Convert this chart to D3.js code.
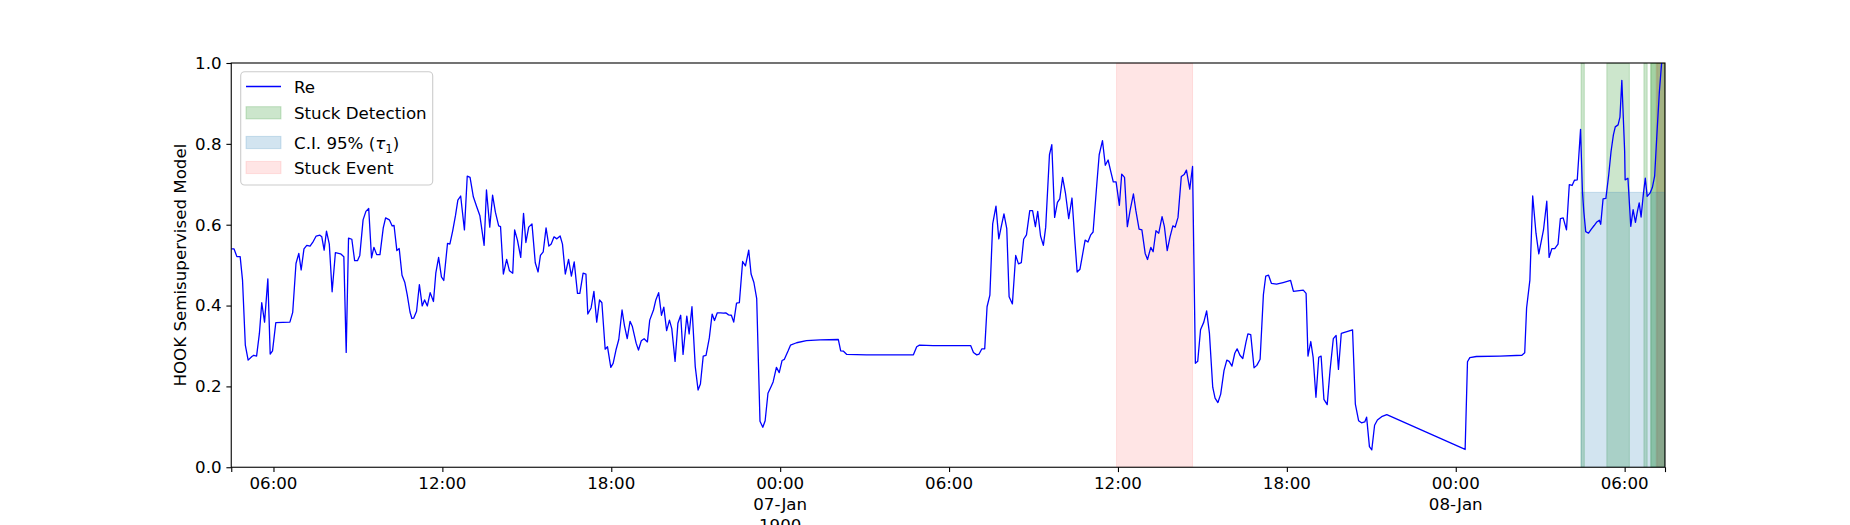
<!DOCTYPE html>
<html><head><meta charset="utf-8">
<script src="https://cdn.jsdelivr.net/npm/d3@7"></script>
<style>
body{margin:0;background:#fff}
svg{display:block}
text{font-family:"DejaVu Sans",sans-serif;fill:#000}
</style>
</head><body>
<svg id="chart" width="1850" height="525"></svg>
<script>
// ---- data (day-of-January HH:MM, year 1900) ----
const times = [
"6 04:30","6 04:36","6 04:42","6 04:49","6 04:54","6 05:00","6 05:06","6 05:14","6 05:18","6 05:24",
"6 05:30","6 05:35","6 05:41","6 05:48","6 05:53","6 05:58","6 06:05","6 06:35","6 06:41","6 06:48",
"6 06:54","6 06:59","6 07:05","6 07:11","6 07:18","6 07:25","6 07:31","6 07:39","6 07:43","6 07:48",
"6 07:53","6 07:59","6 08:05","6 08:12","6 08:23","6 08:30","6 08:35","6 08:40","6 08:47","6 08:53",
"6 08:59","6 09:04","6 09:11","6 09:17","6 09:23","6 09:29","6 09:34","6 09:40","6 09:47","6 09:54",
"6 09:59","6 10:07","6 10:13","6 10:17","6 10:23","6 10:28","6 10:34","6 10:40","6 10:45","6 10:51",
"6 10:55","6 10:59","6 11:05","6 11:11","6 11:17","6 11:22","6 11:28","6 11:34","6 11:41","6 11:46",
"6 11:52","6 11:58","6 12:03","6 12:11","6 12:16","6 12:22","6 12:28","6 12:33","6 12:39","6 12:47",
"6 12:53","6 12:59","6 13:06","6 13:13","6 13:20","6 13:29","6 13:34","6 13:41","6 13:47","6 13:53",
"6 14:00","6 14:04","6 14:10","6 14:17","6 14:23","6 14:30","6 14:34","6 14:40","6 14:47","6 14:53",
"6 14:58","6 15:04","6 15:11","6 15:18","6 15:24","6 15:29","6 15:35","6 15:41","6 15:47","6 15:52",
"6 15:58","6 16:04","6 16:11","6 16:16","6 16:22","6 16:29","6 16:35","6 16:41","6 16:48","6 16:53",
"6 17:00","6 17:06","6 17:10","6 17:17","6 17:23","6 17:29","6 17:35","6 17:40","6 17:47","6 17:52",
"6 17:59","6 18:04","6 18:10","6 18:16","6 18:23","6 18:28","6 18:34","6 18:40","6 18:45","6 18:53",
"6 18:58","6 19:04","6 19:10","6 19:17","6 19:22","6 19:30","6 19:35","6 19:41","6 19:47","6 19:52",
"6 19:58","6 20:04","6 20:09","6 20:16","6 20:22","6 20:28","6 20:33","6 20:41","6 20:46","6 20:52",
"6 20:59","6 21:05","6 21:10","6 21:16","6 21:22","6 21:29","6 21:35","6 21:40","6 21:46","6 21:53",
"6 21:59","6 22:04","6 22:10","6 22:16","6 22:21","6 22:27","6 22:33","6 22:40","6 22:46","6 22:53",
"6 22:58","6 23:04","6 23:10","6 23:17","6 23:23","6 23:28","6 23:34","6 23:40","6 23:45","6 23:52",
"6 23:58","7 00:04","7 00:09","7 00:17","7 00:22","7 00:35","7 00:56","7 01:25","7 02:04","7 02:09",
"7 02:15","7 02:22","7 03:04","7 04:44","7 04:51","7 04:57","7 05:26","7 06:46","7 06:52","7 06:59",
"7 07:04","7 07:10","7 07:16","7 07:21","7 07:27","7 07:33","7 07:40","7 07:46","7 07:51","7 07:57",
"7 08:03","7 08:08","7 08:15","7 08:22","7 08:28","7 08:34","7 08:39","7 08:45","7 08:52","7 08:58",
"7 09:04","7 09:09","7 09:15","7 09:21","7 09:26","7 09:34","7 09:39","7 09:45","7 09:51","7 09:56",
"7 10:02","7 10:08","7 10:15","7 10:22","7 10:28","7 10:33","7 10:39","7 10:45","7 10:50","7 10:56",
"7 11:02","7 11:07","7 11:15","7 11:20","7 11:27","7 11:33","7 11:39","7 11:44","7 11:50","7 11:56",
"7 12:03","7 12:08","7 12:14","7 12:20","7 12:26","7 12:33","7 12:38","7 12:45","7 12:51","7 12:58",
"7 13:03","7 13:10","7 13:15","7 13:21","7 13:27","7 13:34","7 13:39","7 13:45","7 13:51","7 13:57",
"7 14:02","7 14:08","7 14:15","7 14:21","7 14:26","7 14:33","7 14:39","7 14:45","7 14:50","7 14:56",
"7 15:03","7 15:09","7 15:15","7 15:22","7 15:27","7 15:33","7 15:39","7 15:46","7 15:52","7 15:57",
"7 16:03","7 16:09","7 16:14","7 16:20","7 16:26","7 16:33","7 16:37","7 16:43","7 16:50","7 16:56",
"7 17:03","7 17:10","7 17:15","7 17:21","7 17:27","7 17:38","7 17:52","7 18:08","7 18:14","7 18:35",
"7 18:41","7 18:45","7 18:51","7 18:56","7 19:02","7 19:08","7 19:13","7 19:19","7 19:26","7 19:32",
"7 19:39","7 19:45","7 19:50","7 19:56","7 20:20","7 20:26","7 20:33","7 20:39","7 20:46","7 20:50",
"7 20:56","7 21:01","7 21:07","7 21:13","7 21:22","7 21:33","8 00:20","8 00:25","8 00:30","8 00:44",
"8 01:34","8 02:21","8 02:27","8 02:31","8 02:38","8 02:44","8 02:51","8 02:57","8 03:07","8 03:14",
"8 03:19","8 03:25","8 03:31","8 03:38","8 03:43","8 03:49","8 03:56","8 04:02","8 04:08","8 04:13",
"8 04:19","8 04:26","8 04:30","8 04:33","8 04:37","8 04:43","8 04:49","8 04:55","8 05:00","8 05:06",
"8 05:09","8 05:14","8 05:20","8 05:26","8 05:31","8 05:36","8 05:40","8 05:46","8 05:50","8 05:54",
"8 06:00","8 06:01","8 06:07","8 06:13","8 06:18","8 06:23","8 06:27","8 06:31","8 06:35","8 06:40",
"8 06:44","8 06:48","8 06:54","8 06:59","8 07:04","8 07:09","8 07:14","8 07:19","8 07:24"
];
const values = [
0.540,0.540,0.521,0.521,0.463,0.302,0.265,0.274,0.277,0.275,
0.331,0.407,0.359,0.466,0.280,0.288,0.358,0.359,0.383,0.504,
0.529,0.488,0.540,0.549,0.547,0.559,0.572,0.574,0.570,0.537,
0.584,0.552,0.434,0.531,0.528,0.521,0.284,0.567,0.564,0.511,
0.511,0.524,0.612,0.633,0.640,0.518,0.544,0.526,0.526,0.592,
0.617,0.612,0.597,0.598,0.536,0.541,0.475,0.457,0.427,0.384,
0.368,0.369,0.386,0.452,0.399,0.414,0.399,0.432,0.410,0.480,
0.519,0.471,0.462,0.554,0.552,0.585,0.623,0.661,0.671,0.587,
0.720,0.717,0.669,0.645,0.622,0.549,0.686,0.594,0.673,0.631,
0.597,0.595,0.478,0.514,0.486,0.480,0.587,0.562,0.519,0.628,
0.556,0.594,0.602,0.506,0.483,0.524,0.533,0.592,0.547,0.552,
0.570,0.565,0.572,0.552,0.478,0.514,0.473,0.508,0.430,0.430,
0.480,0.478,0.379,0.394,0.435,0.359,0.414,0.407,0.292,0.298,
0.247,0.257,0.290,0.316,0.389,0.351,0.318,0.361,0.348,0.307,
0.290,0.313,0.318,0.310,0.364,0.389,0.414,0.432,0.376,0.396,
0.338,0.364,0.343,0.262,0.356,0.376,0.279,0.374,0.330,0.397,
0.249,0.191,0.206,0.275,0.277,0.320,0.379,0.363,0.382,0.382,
0.381,0.382,0.377,0.376,0.359,0.406,0.407,0.509,0.498,0.537,
0.478,0.457,0.417,0.114,0.099,0.115,0.183,0.198,0.211,0.247,
0.234,0.264,0.267,0.288,0.302,0.308,0.313,0.315,0.316,0.288,
0.287,0.279,0.278,0.278,0.298,0.302,0.301,0.301,0.284,0.278,
0.280,0.293,0.293,0.397,0.426,0.602,0.646,0.565,0.594,0.627,
0.590,0.422,0.404,0.524,0.503,0.506,0.564,0.575,0.635,0.635,
0.595,0.633,0.572,0.549,0.594,0.773,0.798,0.618,0.655,0.664,
0.717,0.679,0.615,0.666,0.562,0.483,0.490,0.529,0.562,0.557,
0.575,0.582,0.702,0.773,0.808,0.747,0.760,0.735,0.706,0.706,
0.648,0.725,0.717,0.595,0.636,0.676,0.636,0.589,0.587,0.529,
0.514,0.544,0.533,0.585,0.579,0.620,0.595,0.536,0.570,0.597,
0.594,0.618,0.719,0.724,0.735,0.688,0.744,0.257,0.262,0.340,
0.359,0.387,0.331,0.198,0.171,0.160,0.181,0.239,0.265,0.262,
0.250,0.282,0.293,0.277,0.269,0.310,0.330,0.328,0.246,0.252,
0.267,0.427,0.473,0.475,0.455,0.453,0.457,0.462,0.435,0.438,
0.430,0.275,0.311,0.272,0.173,0.272,0.275,0.168,0.155,0.239,
0.318,0.326,0.242,0.331,0.340,0.156,0.115,0.110,0.112,0.124,
0.051,0.043,0.104,0.117,0.125,0.130,0.044,0.261,0.271,0.274,
0.275,0.277,0.283,0.394,0.463,0.671,0.579,0.528,0.587,0.658,
0.519,0.541,0.541,0.552,0.615,0.617,0.587,0.699,0.697,0.710,
0.711,0.836,0.682,0.632,0.583,0.579,0.589,0.598,0.606,0.611,
0.601,0.664,0.665,0.723,0.781,0.822,0.842,0.847,0.866,0.957,
0.781,0.711,0.715,0.596,0.637,0.606,0.632,0.654,0.619,0.677,
0.715,0.670,0.678,0.692,0.721,0.829,0.929,1.003,1.060
];
const domainStart = "6 04:30", domainEnd = "8 07:26";
const detectStart = ["8 04:27","8 05:22","8 06:41","8 06:55","8 06:57"];
const detectEnd   = ["8 04:34","8 06:10","8 06:48","8 07:26","8 07:26"];
const ciStart = "8 04:27", ciEnd = "8 07:26";
const ciLower = 0.0, ciUpper = 0.68;
const eventStart = ["7 11:57","8 07:07","8 07:09"];
const eventEnd   = ["7 14:39","8 07:26","8 07:26"];
const tickTimes = ["6 06:00","6 12:00","6 18:00","7 00:00","7 06:00","7 12:00","7 18:00","8 00:00","8 06:00"];
const tickLabels = [["06:00"],["12:00"],["18:00"],["00:00","07-Jan","1900"],["06:00"],["12:00"],["18:00"],["00:00","08-Jan"],["06:00"]];
const yTicks = [0,0.2,0.4,0.6,0.8,1.0];
const legendLabels = ["Re","Stuck Detection","C.I. 95%","Stuck Event"];

// ---- drawing ----
const pt = d3.utcParse("%Y-%m-%d %H:%M");
const parse = s => { const [d, hm] = s.split(" "); return pt(`1900-01-${d.padStart(2,"0")} ${hm}`); };

const L = 231.25, R = 1665, T = 63, B = 467.25;
const FS = 16.67;
const cGreen = "rgba(0,128,0,0.2)", cBlue = "rgba(31,119,180,0.2)", cRed = "rgba(255,0,0,0.1)";
const lineColor = "#0000ff";
const lineW = 1.3;

const svg = d3.select("#chart");
svg.append("rect").attr("width",1850).attr("height",525).attr("fill","#fff");

const x = d3.scaleUtc().domain([parse(domainStart), parse(domainEnd)]).range([L, R]);
const y = d3.scaleLinear().domain([0, 1]).range([B, T]);

svg.append("defs").append("clipPath").attr("id","clip")
  .append("rect").attr("x",L).attr("y",T).attr("width",R-L).attr("height",B-T);

const plot = svg.append("g").attr("clip-path","url(#clip)");

const data = times.map((t,i) => ({t: parse(t), v: values[i]}));

// stuck events
eventStart.forEach((s,i) => {
  const x0 = x(parse(s)), x1 = x(parse(eventEnd[i]));
  plot.append("rect").attr("x",x0).attr("y",T).attr("width",x1-x0).attr("height",B-T)
    .attr("fill",cRed).attr("stroke",cRed).attr("stroke-width",1);
});
// detection spans
detectStart.forEach((s,i) => {
  const x0 = x(parse(s)), x1 = x(parse(detectEnd[i]));
  plot.append("rect").attr("x",x0).attr("y",T).attr("width",x1-x0).attr("height",B-T)
    .attr("fill",cGreen).attr("stroke",cGreen).attr("stroke-width",1);
});
// confidence interval
{
  const x0 = x(parse(ciStart)), x1 = x(parse(ciEnd));
  plot.append("rect").attr("x",x0).attr("y",y(ciUpper)).attr("width",x1-x0).attr("height",y(ciLower)-y(ciUpper))
    .attr("fill",cBlue).attr("stroke",cBlue).attr("stroke-width",1);
}
// line
plot.append("path").datum(data)
  .attr("fill","none").attr("stroke",lineColor).attr("stroke-width",lineW)
  .attr("stroke-linejoin","round")
  .attr("d", d3.line().x(d => x(d.t)).y(d => y(d.v)));

// axes
const tickLen = 4.86, tickPad = 4.86;
const yAxis = svg.append("g").attr("transform",`translate(${L},0)`)
  .call(d3.axisLeft(y).tickValues(yTicks).tickFormat(d3.format(".1f"))
        .tickSizeInner(tickLen).tickSizeOuter(0).tickPadding(tickPad));
yAxis.select(".domain").remove();
yAxis.selectAll("line").attr("stroke","#000").attr("stroke-width",1.1);
yAxis.selectAll("text").attr("font-size",FS).attr("font-family","DejaVu Sans").attr("fill","#000");

const allTicks = [parse(domainStart), ...tickTimes.map(parse), parse(domainEnd)];
const xAxis = svg.append("g").attr("transform",`translate(0,${B})`)
  .call(d3.axisBottom(x).tickValues(allTicks).tickFormat(() => "")
        .tickSizeInner(tickLen).tickSizeOuter(0));
xAxis.select(".domain").remove();
xAxis.selectAll("line").attr("stroke","#000").attr("stroke-width",1.1);

tickTimes.forEach((t,i) => {
  const tx = svg.append("text").attr("x", x(parse(t))).attr("y", 489.4)
    .attr("text-anchor","middle").attr("font-size",FS);
  tickLabels[i].forEach((line,j) => {
    tx.append("tspan").attr("x", x(parse(t))).attr("dy", j === 0 ? 0 : 21).text(line);
  });
});

// spines
svg.append("rect").attr("x",L).attr("y",T).attr("width",R-L).attr("height",B-T)
  .attr("fill","none").attr("stroke","#000").attr("stroke-width",1.1);

// y label
svg.append("text").attr("transform",`translate(185.5,${(T+B)/2}) rotate(-90)`)
  .attr("text-anchor","middle").attr("font-size",FS).text("HOOK Semisupervised Model");

// legend
const lg = svg.append("g");
lg.append("rect").attr("x",240.7).attr("y",71.7).attr("width",192).attr("height",113.3)
  .attr("rx",4).attr("fill","rgba(255,255,255,0.8)").attr("stroke","#cccccc").attr("stroke-width",1.1);
const rows = [86.5, 112.8, 142.5, 167.5];
lg.append("line").attr("x1",246).attr("x2",281).attr("y1",rows[0]).attr("y2",rows[0])
  .attr("stroke",lineColor).attr("stroke-width",lineW);
[cGreen, cBlue, cRed].forEach((c,i) => {
  lg.append("rect").attr("x",246).attr("y",rows[i+1]-6.1).attr("width",35).attr("height",12.2)
    .attr("fill",c).attr("stroke",c).attr("stroke-width",1);
});
legendLabels.forEach((lab,i) => {
  const t = lg.append("text").attr("x",294).attr("y",rows[i]+6.1).attr("font-size",FS);
  if (i === 2) {
    t.append("tspan").text(lab + " (");
    t.append("tspan").attr("font-style","italic").text("τ");
    t.append("tspan").attr("dy",4).attr("font-size",FS*0.7).text("1");
    t.append("tspan").attr("dy",-4).text(")");
  } else t.text(lab);
});
</script>
</body></html>
